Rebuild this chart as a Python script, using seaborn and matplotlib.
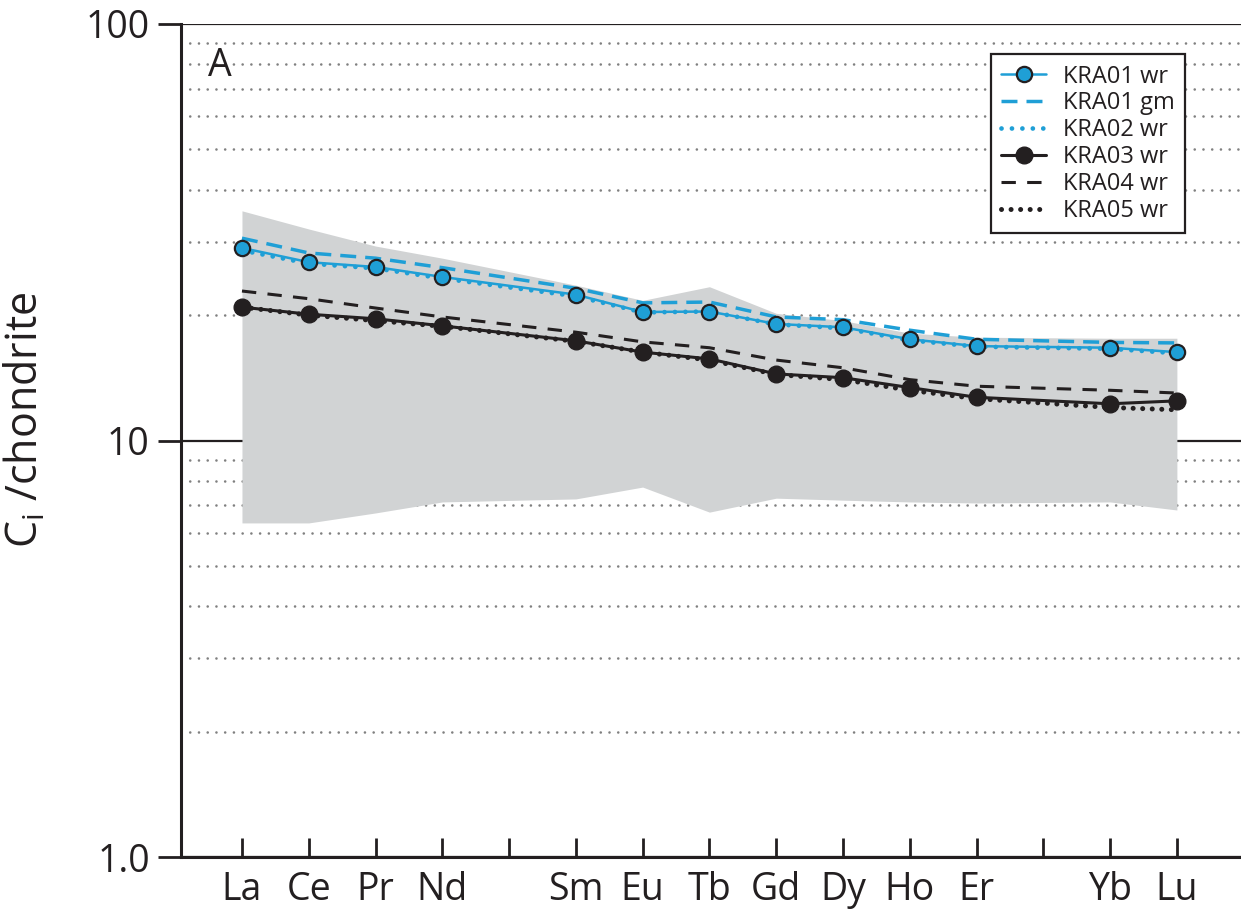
import numpy as np
import pandas as pd
import matplotlib
matplotlib.use("Agg")
import matplotlib.pyplot as plt
from matplotlib.ticker import LogLocator, NullFormatter, FixedLocator, FixedFormatter
from matplotlib.lines import Line2D
import seaborn as sns

# ---------------- data ----------------
tick_labels = ["La", "Ce", "Pr", "Nd", "", "Sm", "Eu", "Tb", "Gd", "Dy", "Ho", "Er", "", "Yb", "Lu"]
elements = ["La", "Ce", "Pr", "Nd", "Sm", "Eu", "Tb", "Gd", "Dy", "Ho", "Er", "Yb", "Lu"]

kra01_wr = [29.0, 26.8, 26.1, 24.7, 22.4, 20.35, 20.4, 19.05, 18.7, 17.5, 16.85, 16.7, 16.3]
kra01_gm = [30.6, 28.2, 27.4, 26.0, 23.2, 21.4, 21.5, 19.8, 19.5, 18.4, 17.5, 17.2, 17.15]
kra02_wr = [28.6, 26.6, 25.9, 24.5, 22.2, 20.3, 20.4, 19.0, 18.6, 17.4, 16.8, 16.6, 16.2]
kra03_wr = [20.9, 20.1, 19.6, 18.85, 17.35, 16.3, 15.7, 14.45, 14.15, 13.4, 12.7, 12.25, 12.45]
kra04_wr = [22.85, 21.9, 20.8, 19.8, 18.2, 17.25, 16.7, 15.6, 14.95, 14.0, 13.5, 13.2, 13.0]
kra05_wr = [20.9, 20.0, 19.4, 18.8, 17.3, 16.3, 15.6, 14.4, 14.0, 13.2, 12.6, 12.0, 11.85]

band_upper = [35.6, 32.2, 29.3, 27.4, 23.6, 21.7, 23.4, 20.2, 19.4, 18.1, 17.7, 17.6, 17.6]
band_lower = [6.34, 6.34, 6.70, 7.12, 7.24, 7.73, 6.73, 7.27, 7.19, 7.12, 7.08, 7.12, 6.81]

y_ticks = [1, 10, 100]
y_tick_labels = ["1.0", "10", "100"]

# ---------------- style ----------------
sns.set_style("ticks")
plt.rcParams["font.family"] = ["Open Sans", "DejaVu Sans"]
plt.rcParams["mathtext.fontset"] = "custom"
plt.rcParams["mathtext.rm"] = "Open Sans"
plt.rcParams["mathtext.it"] = "Open Sans"

INK = "#231f20"
BLUE = "#1f9fd6"
GREY = "#d1d3d4"

pos = [tick_labels.index(e) for e in elements]
df = pd.DataFrame({"element": elements, "x": pos,
                   "KRA01 wr": kra01_wr, "KRA01 gm": kra01_gm, "KRA02 wr": kra02_wr,
                   "KRA03 wr": kra03_wr, "KRA04 wr": kra04_wr, "KRA05 wr": kra05_wr,
                   "upper": band_upper, "lower": band_lower})

fig = plt.figure(figsize=(12.41, 9.18), dpi=100)
ax = fig.add_axes([181 / 1241, 1 - 857 / 918, 1 - 181 / 1241, (857 - 24) / 918])

ax.fill_between(df["x"], df["lower"], df["upper"], color=GREY, lw=0, zorder=1)

styles = {
    "KRA01 gm": dict(color=BLUE, lw=2.5, ls=(0, (4.6, 2.6))),
    "KRA02 wr": dict(color=BLUE, lw=3.4, ls=(0, (0.01, 2.2)), dash_capstyle="round"),
    "KRA04 wr": dict(color=INK, lw=2.2, ls=(0, (4.7, 3.7))),
    "KRA05 wr": dict(color=INK, lw=3.6, ls=(0, (0.01, 1.9)), dash_capstyle="round"),
    "KRA01 wr": dict(color=BLUE, lw=1.8, ls="-", marker="o", markersize=11,
                     markerfacecolor=BLUE, markeredgecolor=INK, markeredgewidth=1.6),
    "KRA03 wr": dict(color=INK, lw=2.2, ls="-", marker="o", markersize=12,
                     markerfacecolor=INK, markeredgecolor=INK, markeredgewidth=1.0),
}
for name in ["KRA04 wr", "KRA05 wr", "KRA03 wr", "KRA01 gm", "KRA02 wr", "KRA01 wr"]:
    sns.lineplot(data=df, x="x", y=name, ax=ax, sort=False, legend=False, zorder=3, **styles[name])

ax.set_yscale("log")
ax.set_ylim(1, 100)
ax.set_xlim(-0.913, 14.96)

ax.yaxis.set_major_locator(FixedLocator(y_ticks))
ax.yaxis.set_major_formatter(FixedFormatter(y_tick_labels))
ax.yaxis.set_minor_locator(LogLocator(base=10, subs=np.arange(2, 10)))
ax.yaxis.set_minor_formatter(NullFormatter())

ax.xaxis.set_major_locator(FixedLocator(list(range(len(tick_labels)))))
ax.xaxis.set_major_formatter(FixedFormatter(tick_labels))

ax.set_axisbelow(True)
ax.grid(False)
ax.grid(which="major", axis="y", color=INK, lw=1.6, ls="-")
ax.grid(which="minor", axis="y", color="#808080", lw=1.9, ls=(0, (0.01, 3.3)), dash_capstyle="round")

for s in ["top", "right"]:
    ax.spines[s].set_visible(False)
for s in ["left", "bottom"]:
    ax.spines[s].set_color(INK)
    ax.spines[s].set_linewidth(2.2)

ax.tick_params(axis="y", which="major", direction="out", length=16.5, width=2.0, color=INK,
               labelsize=27, labelcolor=INK, pad=6)
ax.tick_params(axis="y", which="minor", length=0)
ax.tick_params(axis="x", which="major", direction="in", length=14, width=2.0, color=INK,
               labelsize=27, labelcolor=INK, pad=10)

ax.set_xlabel("")
ax.set_ylabel(r"C$_\mathregular{i}$ /chondrite", fontsize=31, color=INK)
ax.yaxis.set_label_coords(-0.125, 0.525)

ax.text(0.025, 0.972, "A", transform=ax.transAxes, fontsize=27, color=INK, va="top", ha="left")

handles = []
for name in ["KRA01 wr", "KRA01 gm", "KRA02 wr", "KRA03 wr", "KRA04 wr", "KRA05 wr"]:
    handles.append(Line2D([], [], label=name, **styles[name]))
leg = ax.legend(handles=handles, loc="upper left", bbox_to_anchor=(0.764, 0.964), borderaxespad=0,
                fontsize=17, frameon=True, fancybox=False, framealpha=1, edgecolor=INK,
                handlelength=1.9, handletextpad=0.7, labelspacing=0.12, borderpad=0.45)
leg.get_frame().set_linewidth(1.6)
for t in leg.get_texts():
    t.set_color(INK)

fig.savefig("out.png", dpi=100)
